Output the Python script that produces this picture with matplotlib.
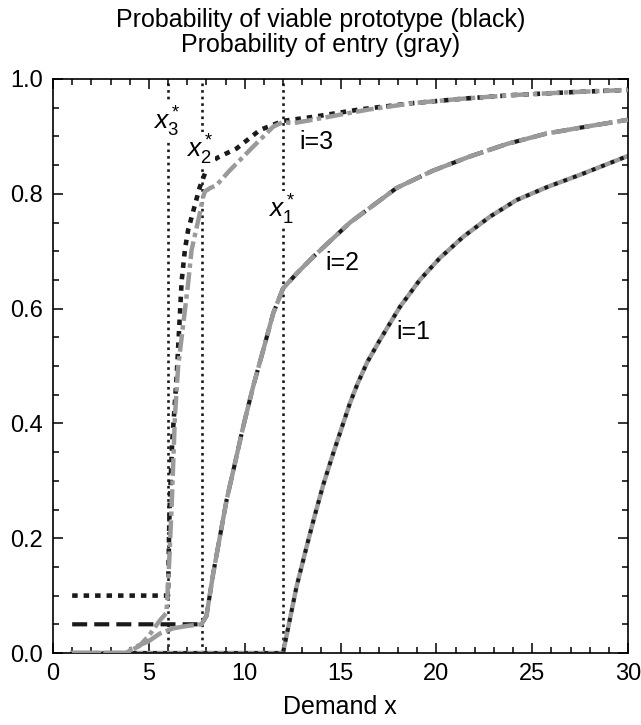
import matplotlib
matplotlib.use("Agg")
import matplotlib.pyplot as plt
from matplotlib.ticker import MultipleLocator

plt.rcParams['font.family'] = ['Liberation Sans', 'DejaVu Sans']
plt.rcParams['mathtext.fontset'] = 'custom'
plt.rcParams['mathtext.rm'] = 'Liberation Sans'
plt.rcParams['mathtext.it'] = 'Liberation Sans:italic'

# thresholds x_i^*
x_star = [12.0, 7.75, 6.0]

# i=1 : prototype and entry are the same curve
x_i1 = [1, 12, 12.71, 13.23, 13.66, 14.1, 14.62, 15.14, 15.49, 15.9, 16.4, 17.05, 18.1,
        19.14, 20.18, 21.4, 22.79, 24.18, 25.8, 27.49, 30]
y_i1 = [0, 0, 0.116, 0.185, 0.24, 0.293, 0.348, 0.4, 0.435, 0.47, 0.507, 0.545, 0.603,
        0.65, 0.688, 0.725, 0.76, 0.789, 0.812, 0.833, 0.866]

# i=2
x_i2_entry = [1, 3.9, 4.1, 4.97, 5.58, 6.27, 6.97, 7.75, 8.01, 8.36, 8.71, 9.06, 9.49,
              9.92, 10.44, 10.97, 11.49, 12.0, 12.71, 13.57, 15.5, 17.92, 19.8, 21.75,
              23.7, 25.75, 28, 30]
y_i2_entry = [0, 0, 0.008, 0.02, 0.034, 0.043, 0.047, 0.05, 0.065, 0.139, 0.203, 0.267,
              0.330, 0.394, 0.464, 0.528, 0.592, 0.635, 0.661, 0.690, 0.75, 0.81, 0.84,
              0.865, 0.887, 0.905, 0.918, 0.929]
x_i2_proto = [1, 7.75, 8.01, 8.36, 8.71, 9.06, 9.49, 9.92, 10.44, 10.97, 11.49, 12.0,
              12.71, 13.57, 15.5, 17.92, 19.8, 21.75, 23.7, 25.75, 28, 30]
y_i2_proto = [0.05, 0.05, 0.065, 0.139, 0.203, 0.267, 0.330, 0.394, 0.464, 0.528, 0.592,
              0.635, 0.661, 0.690, 0.75, 0.81, 0.84, 0.865, 0.887, 0.905, 0.918, 0.929]

# i=3
x_i3_proto = [1, 6.0, 6.08, 6.22, 6.45, 6.71, 6.88, 7.05, 7.66, 8.05, 8.53, 9.58, 10.79,
              12.0, 13.57, 16, 18.79, 21.5, 24, 27, 30]
y_i3_proto = [0.1, 0.1, 0.25, 0.368, 0.481, 0.647, 0.702, 0.737, 0.812, 0.846, 0.862,
              0.879, 0.911, 0.927, 0.934, 0.947, 0.958, 0.966, 0.972, 0.977, 0.981]
x_i3_entry = [1, 3.8, 4.5, 5.0, 5.58, 5.92, 6.05, 6.19, 6.36, 6.53, 7.05, 7.23, 7.66, 7.8,
              7.92, 8.2, 8.53, 9.23, 10.44, 11.49, 12.0, 12.53, 13.56, 15, 16.5, 18.79,
              21.5, 24, 27, 30]
y_i3_entry = [0, 0, 0.012, 0.03, 0.057, 0.07, 0.15, 0.255, 0.412, 0.499, 0.644, 0.702,
              0.766, 0.79, 0.804, 0.81, 0.815, 0.841, 0.882, 0.917, 0.925, 0.923, 0.929,
              0.938, 0.947, 0.958, 0.966, 0.972, 0.977, 0.981]

black = '#1a1a1a'
gray = '#9a9a9a'

fig = plt.figure(figsize=(6.41, 7.25), dpi=100)
ax = fig.add_axes([53/641, 72/725, 575/641, 574/725])

for xs in x_star:
    ax.axvline(xs, color=black, lw=1.9, ls=(0, (1, 1.5)), zorder=1)

# i=1
ax.plot(x_i1, y_i1, color=gray, lw=3.2, zorder=2)
ax.plot(x_i1, y_i1, color=black, lw=2.8, ls=(0, (1, 1.6)), zorder=3)
# i=2
ax.plot(x_i2_proto, y_i2_proto, color=black, lw=3, ls=(0, (3.6, 1.7)), zorder=2)
ax.plot(x_i2_entry, y_i2_entry, color=gray, lw=3.2, ls=(0, (6.5, 1)), zorder=3)
# i=3
ax.plot(x_i3_proto, y_i3_proto, color=black, lw=3.3, ls=(0, (1.2, 1.3)), zorder=2)
ax.plot(x_i3_entry, y_i3_entry, color=gray, lw=3.2, ls=(0, (4, 1, 1, 1)), zorder=3)

bb = dict(facecolor='white', edgecolor='none', pad=1)
ax.text(5.93, 0.926, r'$x_3^*$', fontsize=19, ha='center', va='center', bbox=bb, zorder=4)
ax.text(7.67, 0.876, r'$x_2^*$', fontsize=19, ha='center', va='center', bbox=bb, zorder=4)
ax.text(11.92, 0.772, r'$x_1^*$', fontsize=19, ha='center', va='center', bbox=bb, zorder=4)

ax.text(13.75, 0.891, 'i=3', fontsize=18, ha='center', va='center')
ax.text(15.1, 0.679, 'i=2', fontsize=18, ha='center', va='center')
ax.text(18.8, 0.56, 'i=1', fontsize=18, ha='center', va='center')

ax.set_xlim(0, 30)
ax.set_ylim(0, 1.0)
ax.xaxis.set_major_locator(MultipleLocator(5))
ax.xaxis.set_minor_locator(MultipleLocator(1))
ax.yaxis.set_major_locator(MultipleLocator(0.2))
ax.yaxis.set_minor_locator(MultipleLocator(0.05))
ax.yaxis.set_major_formatter(matplotlib.ticker.FormatStrFormatter('%.1f'))
ax.tick_params(which='both', direction='in', top=True, right=True, labelsize=17,
               pad=7, width=1.1)
ax.tick_params(which='major', length=7)
ax.tick_params(which='minor', length=4)
for s in ax.spines.values():
    s.set_linewidth(1.2)

fig.text(340/641, 1 - 707/725, 'Demand x', fontsize=18, ha='center', va='center')
fig.text(0.5, 1 - 20/725, 'Probability of viable prototype (black)', fontsize=18,
         ha='center', va='center')
fig.text(0.5, 1 - 45/725, 'Probability of entry (gray)', fontsize=18,
         ha='center', va='center')

fig.savefig('out.png', dpi=100)
